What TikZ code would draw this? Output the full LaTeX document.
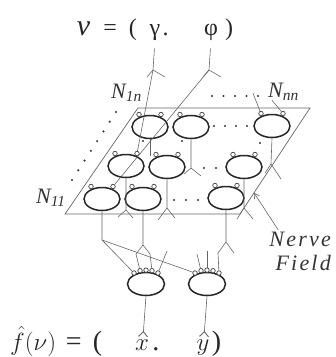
\documentclass[tikz,border=0pt]{standalone}
\usepackage{fontspec}
\setmainfont{Liberation Serif}
\usetikzlibrary{shapes.geometric, arrows.meta, positioning, calc}

\begin{document}
\begin{tikzpicture}[x=1pt, y=-1pt,
    neuron/.style={ellipse, draw=black!85, line width=1.5pt, minimum width=36pt, minimum height=23pt, inner sep=0pt},
    syn/.style={circle, draw=black!75, line width=0.7pt, minimum size=4.5pt, inner sep=0pt, fill=white},
    wire/.style={draw=black!60, line width=0.6pt},
    field/.style={draw=black!60, line width=0.7pt},
    hatwire/.style={wire, -{Straight Barb[reversed, length=5pt, width=9pt, line width=0.9pt]}},
    formula/.style={font=\fontsize{24}{24}\selectfont, text=black!85, inner sep=0pt},
    bigformula/.style={font=\fontsize{28}{28}\selectfont, text=black!85, inner sep=0pt},
    nlabel/.style={font=\fontsize{22}{24}\selectfont\itshape, text=black!80, inner sep=0pt}
  ]
  \useasboundingbox (0,0) rectangle (336,357);

  % input vector
  \node[formula, anchor=base east] (lhs) at (137,35) {{\fontsize{30}{30}\selectfont\textit{ν}}\hspace{0.55em}=\hspace{0.5em}(};
  \node[formula, anchor=base] (gam) at (155,35) {γ};
  \node[formula, anchor=base west] (gamdot) at ($(gam.base east)+(2,0)$) {.};
  \node[formula, anchor=base] (phi) at (211,35) {φ};
  \node[formula, anchor=base] (rpar) at (229,35) {)};

  % nerve field
  \coordinate (pTL) at (138,108);
  \coordinate (pTR) at (310,108);
  \coordinate (pBR) at (240,214);
  \coordinate (pBL) at (65,214);
  \draw[field] (pTL) -- (pTR) -- (pBR) -- (pBL) -- cycle;

  \node[neuron] (n1n) at (150,127) {};
  \node[neuron] (n2n) at (191,127) {};
  \node[neuron] (nnn) at (272,126) {};
  \node[neuron] (n12) at (126,166) {};
  \node[neuron] (n22) at (167,167) {};
  \node[neuron] (nn2) at (244,167) {};
  \node[neuron] (n11) at (102,199) {};
  \node[neuron] (n21) at (143,199) {};
  \node[neuron] (nn1) at (226,198) {};
  \foreach \n in {n1n,n2n,nnn,n12,n22,nn2,n11,n21,nn1} {
    \path (\n.center) ++(-11,-12.5) node[syn] (\n-l) {};
    \path (\n.center) ++(11,-12.5) node[syn] (\n-r) {};
  }

  % output neurons
  \node[neuron, minimum width=37pt] (outx) at (146,284) {};
  \node[neuron, minimum width=37pt] (outy) at (207,284) {};
  \foreach \o in {outx,outy}
    \foreach \k/\dx/\dy in {1/-12/-11,2/-6/-13.3,3/0/-13.9,4/6/-13.3,5/12/-11}
      \path (\o.center) ++(\dx,\dy) node[syn] (\o-\k) {};

  % labels
  \node[nlabel, anchor=base west] (lab1n) at (111,98) {N\textsubscript{1n}};
  \node[nlabel, anchor=base west] (labnn) at (268,97) {N\textsubscript{nn}};
  \node[nlabel, anchor=base west] (lab11) at (36,203) {N\textsubscript{11}};
  \node[nlabel, align=right, anchor=north east,
        font=\fontsize{22}{24}\selectfont\itshape\addfontfeature{LetterSpace=10}] (nerve) at (331,232) {Nerve\\Field};

  % inputs from v
  \coordinate (gfork) at (153,70);
  \coordinate (pfork) at (209,70);
  \draw[wire, shorten <=8pt] (gam.south) -- (gfork);
  \draw[wire, shorten <=8pt] (phi.south) -- (pfork);
  \draw[wire] (gfork) -- ++(-6,7) (gfork) -- ++(12,7);
  \draw[wire] (pfork) -- ++(-6,7) (pfork) -- ++(12,7);
  \draw[wire] (gfork) -- (n12-r);
  \draw[wire] (pfork) -- (n11-r);
  \draw[wire] ($(labnn.west)+(-15,2)$) -- (nnn-l);
  \draw[wire] ($(labnn.south west)+(4,0)$) -- (nnn-r);

  % axons in the field
  \coordinate (an1n) at (150,156);
  \coordinate (fn2n) at (191,168);
  \coordinate (fnnn) at (271,164);
  \coordinate (fn12) at (126,210);
  \coordinate (fn22) at (167,208);
  \coordinate (fnn2) at (244,208);
  \draw[wire] (n1n.south) -- (an1n);
  \draw[wire] (n2n.south) -- (fn2n) (fn2n) -- ++(-7,6) (fn2n) -- ++(10,8);
  \draw[wire] (nnn.south) -- (fnnn) (fnnn) -- ++(-6,9) (fnnn) -- ++(10,15);
  \draw[wire] (n12.south) -- (fn12) (fn12) -- ++(-8,7) (fn12) -- ++(7,8);
  \draw[wire] (n22.south) -- (fn22) (fn22) -- ++(-9,12) (fn22) -- ++(8,10);
  \draw[wire] (nn2.south) -- (fnn2) (fnn2) -- ++(-7,11) (fnn2) -- ++(9,11);

  % axons to the output neurons
  \coordinate (an11) at (102,240);
  \coordinate (fn21) at (143,245);
  \coordinate (fnn1) at (226,242);
  \coordinate (xin) at (167,251);
  \coordinate (yin1) at (197,254);
  \coordinate (yin2) at (207,251);
  \draw[wire] (n11.south) -- (an11) (an11) -- (outx-1) (an11) -- (outy-1);
  \draw[wire] (n21.south) -- (fn21) (fn21) -- ++(-7,9) -- (outx-2) (fn21) -- ++(7,9) -- (outx-4);
  \draw[wire] (nn1.south) -- (fnn1) (fnn1) -- ++(-8,11) -- (outy-5) (fnn1) -- ++(8,11);
  \draw[wire] (xin) -- (outx-5);
  \draw[wire] (yin1) -- (outy-2);
  \draw[wire] (yin2) -- (outy-3);

  % dots
  \foreach \x in {212,223.5,235,246.5,258} \fill[black!80] (\x,96) circle (1.1pt);
  \foreach \t in {0,...,7} \fill[black!80] ($(116,112)!\t/7!(72,180)$) circle (1.2pt);
  \foreach \x in {214,225,236,247} \fill[black!80] (\x,126) circle (1.1pt);
  \foreach \x in {204,216} \fill[black!80] (\x,168) circle (1.1pt);
  \foreach \x in {174,186,198} \fill[black!80] (\x,200) circle (1.1pt);
  \foreach \p in {(143,141),(182,141),(260,143)} \fill[black!80] \p circle (1.1pt);

  % output vector
  \node[bigformula, anchor=base west] (rhs) at (10,350) {$\hat{f}(\nu)$\hspace{0.35em}=\hspace{0.4em}(};
  \node[bigformula, anchor=base] (xlet) at (142,350) {$x$};
  \node[bigformula, anchor=base west] (xdot) at ($(xlet.base east)+(3,0)$) {.};
  \node[bigformula, anchor=base] (ylet) at (203,350) {$y$};
  \node[bigformula, anchor=base west] (rpar2) at ($(ylet.base east)+(2,0)$) {)};
  \draw[hatwire] (outx.south) -- ($(xlet.north)+(1,-2)$);
  \draw[hatwire] (outy.south) -- ($(ylet.north)+(1,-2)$);

  % pointer to the field
  \coordinate (edgept) at ($(pTR)!0.8!(pBR)$);
  \draw[wire, -{Straight Barb[length=5pt, width=6pt]}] ($(nerve.north west)+(9,-2)$) -- (edgept);
\end{tikzpicture}
\end{document}
